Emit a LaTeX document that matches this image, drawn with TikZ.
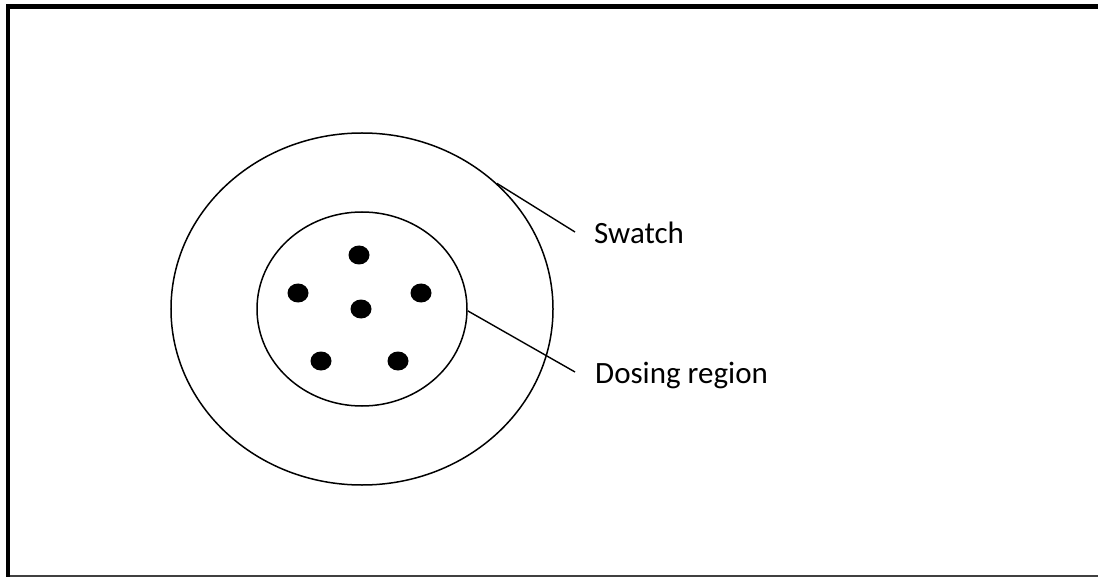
\documentclass[tikz,border=0pt]{standalone}
\usepackage{fontspec}
\setmainfont{Carlito}
\usetikzlibrary{shapes.geometric}
\begin{document}
\begin{tikzpicture}[x=1bp,y=-1bp,
  ring/.style={draw=black,line width=1.5bp,ellipse,inner sep=0pt},
  dot/.style={fill=black,draw=none,ellipse,inner sep=0pt,minimum width=21bp,minimum height=19bp},
  leader/.style={draw=black,line width=1.4bp},
  framestyle/.style={draw=black,line width=4.5bp,line cap=butt,line join=miter},
  lbl/.style={anchor=base west,inner sep=0pt,font=\fontsize{31bp}{37bp}\selectfont}]
\useasboundingbox (0,0) rectangle (1098,577);
% frame
\draw[framestyle] (1098,6.5) -- (8.2,6.5) -- (8.2,577);
\draw[black!75,line width=2bp] (10,576) -- (1098,576);
% circles
\node[ring,minimum width=382bp,minimum height=352bp] (swatch) at (362,309) {};
\node[ring,minimum width=210bp,minimum height=194bp] (dose) at (362,309) {};
% dots
\node[dot] (d1) at (359,255) {};
\node[dot] (d2) at (298,293) {};
\node[dot] (d3) at (421,293) {};
\node[dot] (d4) at (361,309) {};
\node[dot] (d5) at (321,361) {};
\node[dot] (d6) at (398,361) {};
% labels
\node[lbl] (lswatch) at (594,244) {Swatch};
\node[lbl] (ldose) at (595,383) {Dosing region};
\coordinate (eswatch) at (575,232);
\coordinate (edose) at (575,372);
\draw[leader] (swatch.43) -- (eswatch);
\draw[leader] (dose.-1) -- (edose);
\end{tikzpicture}
\end{document}
